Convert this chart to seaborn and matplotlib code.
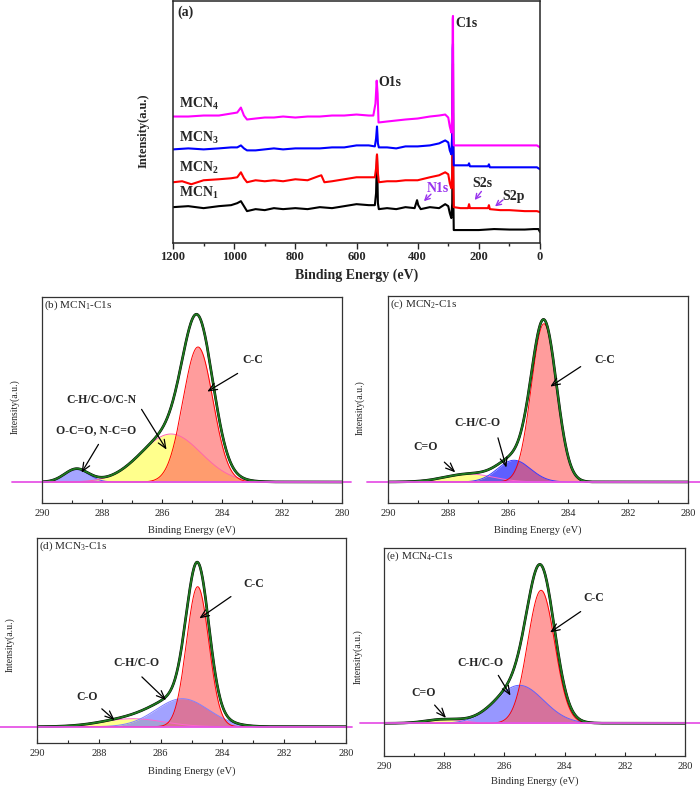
import numpy as np
import pandas as pd
import seaborn as sns
import matplotlib.pyplot as plt
from matplotlib.ticker import MultipleLocator

# ---- (a) survey spectra: binding energy (eV) -> intensity (a.u.) ----
mcn1_be = [1200, 1150, 1100, 1050, 1010, 990, 978, 968, 958, 930, 900, 870, 840, 800, 760, 720,
           680, 640, 600, 560, 540, 536, 533, 530, 527, 500, 470, 440, 410, 402, 398, 390, 360,
           330, 310, 300, 295, 290, 287, 285.5, 284.5, 283.5, 282, 250, 200, 150, 100, 50, 20, 5, 0]
mcn1_i = [36, 37, 35, 37, 38, 40, 42, 37, 32, 34, 33, 35, 34, 35, 34, 36,
          35, 37, 39, 38, 38, 50, 88, 40, 34, 35, 34, 36, 35, 43, 38, 34, 36,
          35, 39, 37, 30, 25, 40, 120, 130, 50, 13, 13, 13, 14, 13.5, 13.5, 14, 14, 11]

mcn2_be = [1200, 1170, 1140, 1100, 1050, 1010, 990, 978, 968, 958, 930, 900, 870, 840, 800, 760,
           725, 715, 705, 680, 640, 600, 560, 540, 536, 533, 530, 527, 500, 470, 440, 400, 360,
           330, 310, 300, 295, 290, 287, 285.5, 284.5, 283.5, 282, 260, 240, 235, 232, 229, 200,
           170, 167, 164, 130, 100, 50, 10, 0]
mcn2_i = [61, 62, 59, 63, 64, 65, 66, 71, 65, 61, 63, 62, 63, 62, 64, 63,
          67, 68, 61, 62, 64, 66, 66, 66, 75, 89, 70, 61, 62, 62, 63, 63, 66,
          68, 71, 69, 60, 55, 70, 160, 180, 70, 36, 35, 35, 35, 39, 35, 35,
          35, 38, 34, 33, 33, 32, 32, 31]

mcn3_be = [1200, 1150, 1100, 1050, 1010, 990, 978, 968, 958, 930, 900, 870, 840, 800, 760, 720,
           680, 640, 600, 560, 540, 536, 533, 530, 527, 500, 470, 440, 400, 360, 330, 310, 300,
           295, 290, 287, 285.5, 284.5, 283.5, 282, 250, 235, 232, 229, 200, 170, 167, 164, 130,
           100, 50, 10, 0]
mcn3_i = [94, 95, 94, 95, 96, 96, 98, 95, 93, 93, 94, 95, 94, 95, 95, 95,
          96, 96, 98, 98, 97, 105, 117, 100, 96, 96, 95, 97, 97, 98, 100, 103, 101,
          93, 89, 110, 195, 200, 100, 78, 78, 78, 80, 77, 77, 77, 79, 76, 76,
          76, 76, 76, 74]

mcn4_be = [1200, 1150, 1100, 1050, 1010, 990, 978, 968, 958, 930, 900, 870, 840, 800, 760, 720,
           680, 640, 600, 560, 545, 538, 534, 531, 528, 500, 470, 440, 400, 360, 330, 310, 300,
           295, 290, 287, 285.5, 284.5, 283.5, 282, 250, 200, 150, 100, 50, 10, 0]
mcn4_i = [127, 127, 128, 128, 130, 131, 136, 128, 124, 125, 126, 126, 127, 126, 127, 127,
          128, 128, 129, 128, 128, 140, 163, 150, 121, 122, 123, 124, 125, 127, 128, 129, 126,
          117, 111, 130, 225, 228, 110, 98, 98, 98, 98, 98, 98, 98, 96]

survey_names = ['MCN$_\\mathbf{1}$', 'MCN$_\\mathbf{2}$', 'MCN$_\\mathbf{3}$', 'MCN$_\\mathbf{4}$']
survey_colors = ['black', 'red', 'blue', 'magenta']

# ---- (b)-(e) C1s fits: peak centre (eV), height (a.u.), sigma (eV) ----
# order: C-C (red), second component, third component
b_centers, b_heights, b_sigmas = [284.8, 285.7, 288.85], [135, 48, 13], [0.5, 1.0, 0.4]
c_centers, c_heights, c_sigmas = [284.8, 285.8, 287.3], [158, 21.7, 8], [0.42, 0.55, 0.8]
d_centers, d_heights, d_sigmas = [284.8, 285.3, 286.9], [140, 28, 8], [0.36, 0.85, 1.0]
e_centers, e_heights, e_sigmas = [284.78, 285.5, 288.0], [133, 38, 4], [0.45, 0.8, 0.6]

plt.rcParams['figure.dpi'] = 100
sns.set_style('ticks')
plt.rcParams['font.family'] = ['Liberation Serif', 'DejaVu Serif']
plt.rcParams['mathtext.fontset'] = 'custom'
plt.rcParams['mathtext.rm'] = 'Liberation Serif'
plt.rcParams['mathtext.bf'] = 'Liberation Serif:bold'
plt.rcParams['mathtext.it'] = 'Liberation Serif:italic'

fig = plt.figure(figsize=(7, 7.88))
W, H = 700, 788


def px_axes(l, t, r, b):
    return fig.add_axes([l / W, 1 - b / H, (r - l) / W, (b - t) / H])


# ---------------- panel (a) ----------------
ax = px_axes(173, 1, 540, 243)
survey = [(mcn1_be, mcn1_i), (mcn2_be, mcn2_i), (mcn3_be, mcn3_i), (mcn4_be, mcn4_i)]
for (be, inten), col in zip(survey, survey_colors):
    sns.lineplot(x=be, y=inten, color=col, lw=1.5, ax=ax)
ax.set_xlim(1200, 0)
ax.set_ylim(0, 243)
ax.set_yticks([])
ax.xaxis.set_major_locator(MultipleLocator(200))
ax.xaxis.set_minor_locator(MultipleLocator(100))
ax.tick_params(axis='x', which='major', direction='out', length=4, width=1, pad=2, labelsize=9)
ax.tick_params(axis='x', which='minor', direction='out', length=2.5, width=1)
for lbl in ax.get_xticklabels():
    lbl.set_fontweight('bold')
for s in ax.spines.values():
    s.set_linewidth(1.1)
ax.set_xlabel('Binding Energy (eV)', fontsize=10, fontweight='bold')
ax.xaxis.set_label_coords(0.5, -0.105)
ax.set_ylabel('Intensity(a.u.)', fontsize=9, fontweight='bold')
ax.yaxis.set_label_coords(-0.065, 0.465)
ax.text(1159, 232, '(a)', fontsize=10, fontweight='bold', ha='center', va='center')
for name, yy in zip(survey_names, [50, 75, 105, 140]):
    ax.text(1181, yy, name, fontsize=10, fontweight='bold', ha='left', va='center')
ax.text(492, 161, 'O1s', fontsize=10, fontweight='bold', ha='center', va='center')
ax.text(240, 220, 'C1s', fontsize=10, fontweight='bold', ha='center', va='center')
purple = '#9933ee'
ax.text(335, 55, 'N1s', fontsize=10, fontweight='bold', color=purple, ha='center', va='center')
ax.text(190, 60, 'S2s', fontsize=10, fontweight='bold', ha='center', va='center')
ax.text(85, 47, 'S2p', fontsize=10, fontweight='bold', ha='center', va='center')
for tail, head in [((350, 51), (386, 40)), ((186, 54), (219, 41)), ((114, 45), (154, 35))]:
    ax.annotate('', xy=head, xytext=tail,
                arrowprops=dict(arrowstyle='->,head_length=0.35,head_width=0.18', color=purple, lw=1))

# ---------------- panels (b)-(e) ----------------
panels = [
    dict(box=(42, 297, 342, 503), ylim=(-21, 185), grid=(291.0, 279.7),
         centers=b_centers, heights=b_heights, sigmas=b_sigmas,
         fills=['#ff5a5a', '#ffff40', '#6a6aff'], edges=['red', '#ff66aa', '#5050ff'],
         alphas=[0.6, 0.6, 0.6],
         title='(b) MCN$_1$-C1s', ylab=(-0.073, 0.466), xlab=-0.11,
         notes=[('C-C', (282.97, 122), (283.4, 110), (284.57, 89)),
                ('C-H/C-O/C-N', (288.03, 82), (286.73, 75), (285.8, 30)),
                ('O-C=O, N-C=O', (288.2, 52), (288.07, 40), (288.73, 7))]),
    dict(box=(388, 296, 688, 503), ylim=(-21, 185.7), grid=(290.7, 279.6),
         centers=c_centers, heights=c_heights, sigmas=c_sigmas,
         fills=['#ff5a5a', '#2a2aff', '#ffff40'], edges=['red', '#3a3aff', '#ff66cc'],
         alphas=[0.6, 0.75, 0.6],
         title='(c) MCN$_2$-C1s', ylab=(-0.077, 0.46), xlab=-0.11,
         notes=[('C-C', (282.77, 121.7), (283.5, 116.7), (284.67, 93.7)),
                ('C-H/C-O', (287.03, 58.7), (286.36, 46.7), (286.03, 11.7)),
                ('C=O', (288.73, 34.7), (288.19, 21.7), (287.69, 7.7))]),
    dict(box=(37, 538, 346, 743), ylim=(-16.3, 188.7), grid=(291.2, 279.8),
         centers=d_centers, heights=d_heights, sigmas=d_sigmas,
         fills=['#ff5a5a', '#7070ff', '#ffff40'], edges=['red', '#8080ff', '#ff66cc'],
         alphas=[0.6, 0.65, 0.6],
         title='(d) MCN$_3$-C1s', ylab=(-0.071, 0.478), xlab=-0.112,
         notes=[('C-C', (283.0, 142.7), (283.65, 131.7), (284.82, 106.7)),
                ('C-H/C-O', (286.77, 63.7), (286.67, 51.7), (285.76, 24.7)),
                ('C-O', (288.39, 29.7), (287.97, 19.7), (287.42, 4.7))]),
    dict(box=(384, 548, 685, 756), ylim=(-32.7, 175.3), grid=(290.8, 279.5),
         centers=e_centers, heights=e_heights, sigmas=e_sigmas,
         fills=['#ff5a5a', '#6060ff', '#ffff40'], edges=['red', '#6060ff', '#ff66cc'],
         alphas=[0.6, 0.65, 0.6],
         title='(e) MCN$_4$-C1s', ylab=(-0.07, 0.476), xlab=-0.10,
         notes=[('C-C', (283.03, 125.3), (283.39, 113.3), (284.56, 89.3)),
                ('C-H/C-O', (286.78, 60.3), (286.25, 50.3), (285.75, 25.3)),
                ('C=O', (288.68, 30.3), (288.38, 20.3), (287.88, 3.3))]),
]


def gauss(x, c, h, s):
    return h * np.exp(-(x - c) ** 2 / (2 * s ** 2))


for p in panels:
    ax = px_axes(*p['box'])
    be = np.linspace(p['grid'][0], p['grid'][1], 900)
    comps = [gauss(be, c, h, s) for c, h, s in zip(p['centers'], p['heights'], p['sigmas'])]
    # draw order: small components first, C-C last
    for comp, fc, ec, al in list(zip(comps, p['fills'], p['edges'], p['alphas']))[::-1]:
        ax.fill_between(be, 0, comp, color=fc, alpha=al, lw=0)
        sns.lineplot(x=be, y=comp, color=ec, lw=0.7, ax=ax)
    env = np.sum(comps, axis=0)
    sns.lineplot(x=be, y=env, color='black', lw=1.9, ax=ax)
    sns.lineplot(x=be, y=env, color='#1f7a1f', lw=1.3, ax=ax)
    sns.lineplot(x=be, y=np.zeros_like(be), color='#e655e6', lw=1.3, ax=ax)
    ax.lines[-1].set_clip_on(False)
    ax.set_xlim(290, 280)
    ax.set_ylim(*p['ylim'])
    ax.set_yticks([])
    ax.xaxis.set_major_locator(MultipleLocator(2))
    ax.xaxis.set_minor_locator(MultipleLocator(1))
    ax.tick_params(axis='x', which='major', direction='in', length=3, width=0.8, pad=4, labelsize=7.5)
    ax.tick_params(axis='x', which='minor', direction='in', length=2, width=0.8)
    for s in ax.spines.values():
        s.set_linewidth(0.9)
        s.set_color('#333333')
    ax.set_xlabel('Binding Energy (eV)', fontsize=7.5)
    ax.xaxis.set_label_coords(0.5, p['xlab'])
    ax.set_ylabel('Intensity(a.u.)', fontsize=7)
    ax.yaxis.set_label_coords(*p['ylab'])
    ax.text(0.005, 0.995, p['title'], transform=ax.transAxes, fontsize=8, ha='left', va='top')
    for txt, pos, tail, head in p['notes']:
        ax.text(pos[0], pos[1], txt, fontsize=8.5, fontweight='bold', ha='center', va='center')
        ax.annotate('', xy=head, xytext=tail,
                    arrowprops=dict(arrowstyle='->,head_length=0.6,head_width=0.25', color='black', lw=0.9))

fig.savefig('out.png', dpi=100)
